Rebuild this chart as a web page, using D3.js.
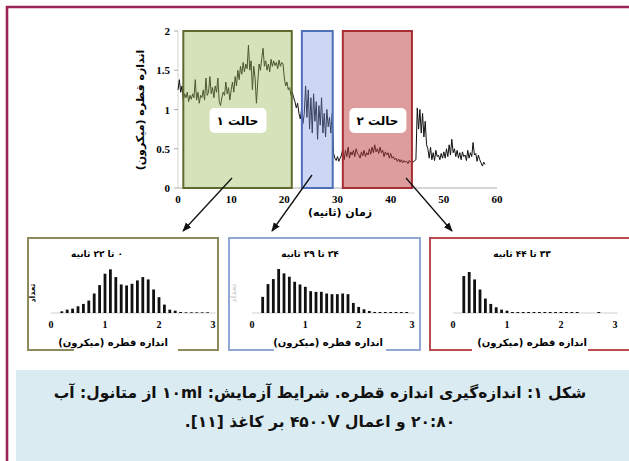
<!DOCTYPE html>
<html>
<head>
<meta charset="utf-8">
<script src="https://cdn.jsdelivr.net/npm/d3@7"></script>
<style>
  html, body { margin: 0; padding: 0; background: #fff; }
  svg { display: block; }
  .fa { font-family: "DejaVu Sans", sans-serif; font-weight: bold; direction: rtl; }
  .num { font-family: "Liberation Serif", serif; font-weight: bold; }
</style>
</head>
<body>
<script>
// drop size time series, one sample every 0.25 s from t = 0
var sampleStep = 0.25;
var dropSize = [
  1.25, 1.38, 1.22, 1.30, 1.12, 1.20, 1.15, 1.22, 1.10, 1.18, 1.13, 1.20,
  1.15, 1.38, 1.12, 1.22, 1.08, 1.18, 1.15, 1.25, 1.12, 1.40, 1.18, 1.22,
  1.42, 1.20, 1.28, 1.15, 1.30, 1.22, 1.40, 1.10, 1.05, 1.15, 1.22, 1.18,
  1.35, 1.20, 1.28, 1.12, 1.25, 1.35, 1.22, 1.42, 1.30, 1.50, 1.38, 1.55,
  1.45, 1.60, 1.48, 1.58, 1.52, 1.82, 1.50, 1.62, 1.25, 1.55, 1.40, 1.08,
  1.35, 1.58, 1.50, 1.65, 1.78, 1.55, 1.62, 1.50, 1.58, 1.48, 1.64, 1.55,
  1.62, 1.56, 1.60, 1.52, 1.63, 1.55, 1.60, 1.58, 1.40, 1.30, 1.35, 1.25,
  1.28, 1.18, 1.22, 1.15, 1.10, 1.02, 1.08, 0.95, 0.88, 1.00, 0.82, 0.95,
  1.30, 0.90, 1.25, 0.75, 1.15, 0.70, 1.20, 0.85, 1.10, 0.62, 1.05, 0.80,
  1.15, 0.70, 0.95, 0.65, 1.00, 0.78, 0.90, 0.70, 0.95, 0.45, 0.38, 0.35,
  0.40, 0.34, 0.38, 0.42, 0.50, 0.36, 0.48, 0.40, 0.52, 0.38, 0.46, 0.42,
  0.48, 0.40, 0.50, 0.44, 0.42, 0.38, 0.46, 0.41, 0.48, 0.40, 0.45, 0.42,
  0.50, 0.43, 0.52, 0.45, 0.55, 0.46, 0.50, 0.44, 0.52, 0.45, 0.48, 0.40,
  0.46, 0.42, 0.45, 0.38, 0.44, 0.38, 0.40, 0.36, 0.38, 0.34, 0.37, 0.33,
  0.36, 0.32, 0.35, 0.33, 0.34, 0.31, 0.35, 0.33, 0.34, 0.33, 0.35, 0.36,
  1.02, 0.75, 1.00, 0.70, 0.95, 0.65, 0.85, 0.55, 0.50, 0.38, 0.52, 0.36,
  0.45, 0.35, 0.48, 0.40, 0.42, 0.36, 0.44, 0.38, 0.46, 0.38, 0.50, 0.40,
  0.55, 0.42, 0.62, 0.45, 0.50, 0.40, 0.48, 0.38, 0.45, 0.36, 0.46, 0.40,
  0.42, 0.35, 0.48, 0.38, 0.45, 0.40, 0.58, 0.42, 0.44, 0.34, 0.42, 0.36,
  0.32, 0.28, 0.33, 0.30
];
var timeTicks = [0, 10, 20, 30, 40, 50, 60];
var sizeTicks = [0, 0.5, 1, 1.5, 2];

// highlighted time windows (seconds)
var windowStart = [1, 23.3, 31];
var windowEnd = [21.4, 29.1, 44];
var windowLabels = ["حالت ۱", null, "حالت ۲"];

// histograms: bin centres (micron) and relative counts
var binCenters = [0.2, 0.3, 0.4, 0.5, 0.6, 0.7, 0.8, 0.9, 1.0, 1.1, 1.2, 1.3, 1.4, 1.5,
  1.6, 1.7, 1.8, 1.9, 2.0, 2.1, 2.2, 2.3, 2.4, 2.5, 2.6, 2.7, 2.8, 2.9];
var hist1 = [5, 10, 13, 20, 27, 37, 58, 83, 117, 130, 107, 85, 82, 87,
  97, 107, 100, 70, 47, 25, 10, 7, 3, 2, 2, 2, 2, 2];
var hist2 = [48, 86, 101, 131, 118, 108, 93, 85, 78, 65, 63, 63, 58, 56,
  56, 58, 56, 30, 18, 11, 6, 3, 3, 3, 3, 3, 3, 3];
var hist3 = [110, 122, 100, 70, 43, 27, 17, 10, 7, 3, 3, 3, 3, 3,
  3, 3, 3, 3, 3, 3, 3, 3, 0, 0, 0, 3, 0, 0];
var histTicks = [0, 1, 2, 3];
var histTitles = ["۰ تا ۲۲ ثانیه", "۲۴ تا ۲۹ ثانیه", "۳۳ تا ۴۴ ثانیه"];

var xLabel = "زمان (ثانیه)";
var yLabel = "اندازه قطره (میکرون)";
var histXLabel = "اندازه قطره (میکرون)";
var histYLabel = "تعداد";
var captionLines = [
  "شکل ۱: اندازه‌گیری اندازه قطره. شرایط آزمایش: ۱۰ml از متانول: آب",
  "۲۰:۸۰ و اعمال ۴۵۰۰V بر کاغذ [۱۱]."
];

var W = 629, H = 461;
var svg = d3.select("body").append("svg").attr("width", W).attr("height", H);

// page frame + caption box
svg.append("rect").attr("x", 16).attr("y", 370).attr("width", W - 16).attr("height", H - 370)
  .attr("fill", "#daecf1");
svg.append("path").attr("d", "M7," + H + "V7H" + W)
  .attr("fill", "none").attr("stroke", "#9b2458").attr("stroke-width", 2.6);

// ---- main time series ----
var x = d3.scaleLinear().domain([0, 60]).range([178, 497]);
var y = d3.scaleLinear().domain([0, 2]).range([188, 31]);

var line = d3.line()
  .x(function (d, i) { return x(i * sampleStep); })
  .y(function (d) { return y(d); });

svg.append("line").attr("x1", x(0)).attr("x2", x(60)).attr("y1", y(0)).attr("y2", y(0))
  .attr("stroke", "#999").attr("stroke-width", 0.8);
svg.append("line").attr("x1", x(0)).attr("x2", x(0)).attr("y1", y(0)).attr("y2", y(2))
  .attr("stroke", "#bbb").attr("stroke-width", 0.6);

svg.append("path").attr("d", line(dropSize))
  .attr("fill", "none").attr("stroke", "#111").attr("stroke-width", 1)
  .attr("stroke-linejoin", "round");

var winFill = ["rgba(155,185,90,0.42)", "rgba(120,150,230,0.38)", "rgba(190,60,60,0.5)"];
var winStroke = ["#5e6b2c", "#4f6fb8", "#a82e33"];
windowStart.forEach(function (s, i) {
  svg.append("rect")
    .attr("x", x(s)).attr("y", y(2))
    .attr("width", x(windowEnd[i]) - x(s)).attr("height", y(0) - y(2))
    .attr("fill", winFill[i]).attr("stroke", winStroke[i]).attr("stroke-width", 2);
  if (windowLabels[i]) {
    var cx = (x(s) + x(windowEnd[i])) / 2;
    svg.append("rect").attr("x", cx - 28).attr("y", 108).attr("width", 57).attr("height", 25)
      .attr("rx", 5).attr("fill", "#fff");
    svg.append("text").attr("class", "fa").attr("x", cx).attr("y", 125)
      .attr("text-anchor", "middle").attr("font-size", 12).text(windowLabels[i]);
  }
});

svg.selectAll(".xt").data(timeTicks).enter().append("text")
  .attr("class", "num").attr("x", function (d) { return x(d); }).attr("y", 203)
  .attr("text-anchor", "middle").attr("font-size", 11).text(function (d) { return d; });
svg.selectAll(".yt").data(sizeTicks).enter().append("text")
  .attr("class", "num").attr("x", 170).attr("y", function (d) { return y(d) + 4; })
  .attr("text-anchor", "end").attr("font-size", 11).text(function (d) { return d; });
svg.selectAll(".ytk").data(sizeTicks).enter().append("line")
  .attr("x1", x(0) - 4).attr("x2", x(0)).attr("y1", function (d) { return y(d); })
  .attr("y2", function (d) { return y(d); }).attr("stroke", "#999").attr("stroke-width", 0.8);

svg.append("text").attr("class", "fa").attr("x", 340).attr("y", 216)
  .attr("text-anchor", "middle").attr("font-size", 11).text(xLabel);
svg.append("text").attr("class", "fa")
  .attr("transform", "translate(144,110) rotate(-90)")
  .attr("text-anchor", "middle").attr("font-size", 11).text(yLabel);

// arrows from the windows to the histograms
var defs = svg.append("defs");
defs.append("marker").attr("id", "ah").attr("viewBox", "0 0 10 10")
  .attr("refX", 9).attr("refY", 5).attr("markerWidth", 7).attr("markerHeight", 7)
  .attr("orient", "auto")
  .append("path").attr("d", "M0,1L10,5L0,9Z").attr("fill", "#111");
var arrows = [[232, 178, 183, 231], [312, 175, 272, 231], [406, 178, 452, 231]];
arrows.forEach(function (a) {
  svg.append("line").attr("x1", a[0]).attr("y1", a[1]).attr("x2", a[2]).attr("y2", a[3])
    .attr("stroke", "#111").attr("stroke-width", 1.3).attr("marker-end", "url(#ah)");
});

// ---- histogram panels ----
var panels = [
  { left: 28, right: 218, gap: [74, 178], x0: 51, x3: 213, titleX: 97, labelX: 113,
    color: "#8a8a5c", yLabelColor: "#111", data: hist1 },
  { left: 229, right: 420, gap: [274, 386], x0: 252, x3: 412, titleX: 310, labelX: 328,
    color: "#92a8d6", yLabelColor: "#d4d4d4", data: hist2 },
  { left: 430, right: 640, gap: [472, 588], x0: 453, x3: 615, titleX: 522, labelX: 532,
    color: "#b94a50", yLabelColor: null, data: hist3 }
];
var panelTop = 238, panelBottom = 350, histBase = 313;
var hy = d3.scaleLinear().domain([0, 131]).range([histBase, histBase - 44]);

panels.forEach(function (p, k) {
  var g = svg.append("g");
  g.append("path")
    .attr("d", "M" + p.gap[0] + "," + panelBottom + "H" + p.left + "V" + panelTop +
      "H" + p.right + "V" + panelBottom + "H" + p.gap[1])
    .attr("fill", "none").attr("stroke", p.color).attr("stroke-width", 2);

  var hx = d3.scaleLinear().domain([0, 3]).range([p.x0, p.x3]);
  g.append("line").attr("x1", hx(0)).attr("x2", hx(3.05)).attr("y1", histBase).attr("y2", histBase)
    .attr("stroke", "#bbb").attr("stroke-width", 0.7);
  g.selectAll("rect.bar").data(p.data).enter().append("rect")
    .attr("class", "bar")
    .attr("x", function (d, i) { return hx(binCenters[i]) - 1.4; })
    .attr("y", function (d) { return hy(d); })
    .attr("width", 2.8)
    .attr("height", function (d) { return histBase - hy(d); })
    .attr("fill", "#111");
  g.selectAll("text.tk").data(histTicks).enter().append("text")
    .attr("class", "num").attr("x", function (d) { return hx(d); }).attr("y", 328)
    .attr("text-anchor", "middle").attr("font-size", 10).text(function (d) { return d; });
  g.append("text").attr("class", "fa").attr("x", p.titleX).attr("y", 257)
    .attr("text-anchor", "middle").attr("font-size", 9).text(histTitles[k]);
  g.append("text").attr("class", "fa").attr("x", p.labelX).attr("y", 346)
    .attr("text-anchor", "middle").attr("font-size", 10).text(histXLabel);
  if (p.yLabelColor) {
    g.append("text").attr("class", "fa")
      .attr("transform", "translate(" + (p.left + 7) + ",293) rotate(-90)")
      .attr("text-anchor", "middle").attr("font-size", 8)
      .attr("fill", p.yLabelColor).text(histYLabel);
  }
});

// caption
captionLines.forEach(function (t, i) {
  svg.append("text").attr("class", "fa").attr("x", 320).attr("y", 398 + i * 29)
    .attr("text-anchor", "middle").attr("font-size", 15.5).attr("fill", "#111").text(t);
});
</script>
</body>
</html>
